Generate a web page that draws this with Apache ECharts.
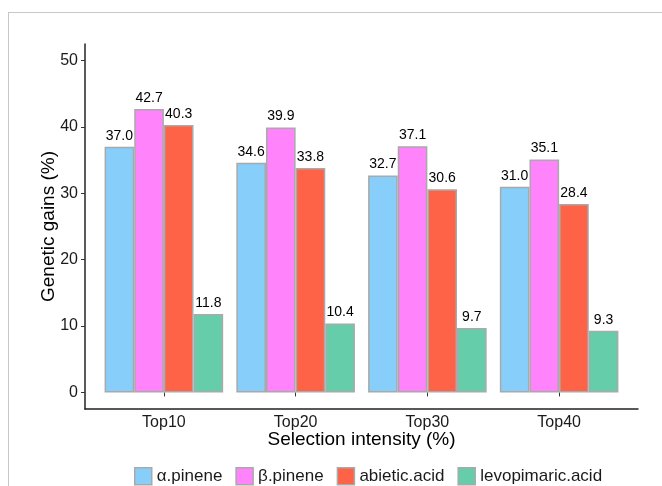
<!DOCTYPE html>
<html>
<head>
<meta charset="utf-8">
<script src="https://cdn.jsdelivr.net/npm/echarts@6/dist/echarts.min.js"></script>
<style>
  html, body { margin: 0; padding: 0; background: #fff; }
  #chart { width: 662px; height: 486px; }
</style>
</head>
<body>
<div id="chart"></div>
<script>
// Selection intensity groups and genetic gains (%) per compound
const categories = ['Top10', 'Top20', 'Top30', 'Top40'];
const alphaPinene = [37.0, 34.6, 32.7, 31.0];
const betaPinene = [42.7, 39.9, 37.1, 35.1];
const abieticAcid = [40.3, 33.8, 30.6, 28.4];
const levopimaricAcid = [11.8, 10.4, 9.7, 9.3];
const yTicks = [0, 10, 20, 30, 40, 50];

const seriesNames = ['α.pinene', 'β.pinene', 'abietic.acid', 'levopimaric.acid'];
const seriesColors = ['#87CEFA', '#FF83FA', '#FF6347', '#66CDAA'];
const seriesData = [alphaPinene, betaPinene, abieticAcid, levopimaricAcid];

const font = 'Liberation Sans, Arial, sans-serif';
const yMin = -2.5, yMax = 52.5;
const gridTop = 44, gridBottom = 77;

const chart = echarts.init(document.getElementById('chart'), null, { renderer: 'canvas' });

const option = {
  animation: false,
  backgroundColor: '#ffffff',
  textStyle: { fontFamily: font },
  grid: [
    // bar panel: category bands inset by ggplot-style discrete expansion
    { left: 98, right: 37, top: gridTop, bottom: gridBottom, containLabel: false },
    // axis frame panel
    { left: 85, right: 24, top: gridTop, bottom: gridBottom, containLabel: false }
  ],
  xAxis: [
    {
      type: 'category',
      gridIndex: 0,
      data: categories,
      axisLine: { show: false },
      axisTick: { show: true, alignWithLabel: true, length: 4, lineStyle: { color: '#333', width: 1 } },
      axisLabel: { fontSize: 16, color: '#1a1a1a', margin: 6, fontFamily: font },
      name: 'Selection intensity (%)',
      nameLocation: 'middle',
      nameGap: 21,
      nameMoveOverlap: false,
      nameTextStyle: { fontSize: 19, color: '#000', fontFamily: font }
    },
    {
      type: 'value',
      gridIndex: 1,
      min: 0.4,
      max: 4.6,
      axisLine: { show: true, onZero: false, lineStyle: { color: '#222', width: 1.5 } },
      axisTick: { show: false },
      axisLabel: { show: false },
      splitLine: { show: false }
    }
  ],
  yAxis: [
    {
      type: 'value',
      gridIndex: 0,
      min: yMin,
      max: yMax,
      show: false,
      splitLine: { show: false }
    },
    {
      type: 'value',
      gridIndex: 1,
      min: yMin,
      max: yMax,
      axisLine: { show: true, onZero: false, lineStyle: { color: '#222', width: 1.5 } },
      axisTick: { show: true, length: 4, customValues: yTicks, lineStyle: { color: '#333', width: 1 } },
      axisLabel: { show: true, customValues: yTicks, fontSize: 16, color: '#1a1a1a', margin: 7, fontFamily: font },
      splitLine: { show: false },
      name: 'Genetic gains (%)',
      nameLocation: 'middle',
      nameGap: 27,
      nameRotate: 90,
      nameMoveOverlap: false,
      nameTextStyle: { fontSize: 19, color: '#000', fontFamily: font }
    }
  ],
  legend: {
    left: 129,
    top: 462,
    itemWidth: 17,
    itemHeight: 17,
    itemGap: 13,
    icon: 'rect',
    data: seriesNames,
    textStyle: { fontSize: 17, color: '#1a1a1a', fontFamily: font },
    itemStyle: { borderColor: '#A9A9A9', borderWidth: 1.5 }
  },
  series: seriesData.map((values, i) => ({
    name: seriesNames[i],
    type: 'bar',
    xAxisIndex: 0,
    yAxisIndex: 0,
    data: values,
    barGap: '0%',
    barCategoryGap: '10%',
    itemStyle: { color: seriesColors[i], borderColor: '#A9A9A9', borderWidth: 1.5 },
    label: {
      show: true,
      position: 'top',
      distance: 4,
      fontSize: 14,
      color: '#000',
      fontFamily: font,
      formatter: p => p.value.toFixed(1)
    }
  })),
  graphic: [
    // light page frame along top and left edges
    { type: 'line', shape: { x1: 8, y1: 12.5, x2: 662, y2: 12.5 }, style: { stroke: '#c8c8c8', lineWidth: 1 } },
    { type: 'line', shape: { x1: 8.5, y1: 12, x2: 8.5, y2: 486 }, style: { stroke: '#c8c8c8', lineWidth: 1 } }
  ]
};

chart.setOption(option);
</script>
</body>
</html>
